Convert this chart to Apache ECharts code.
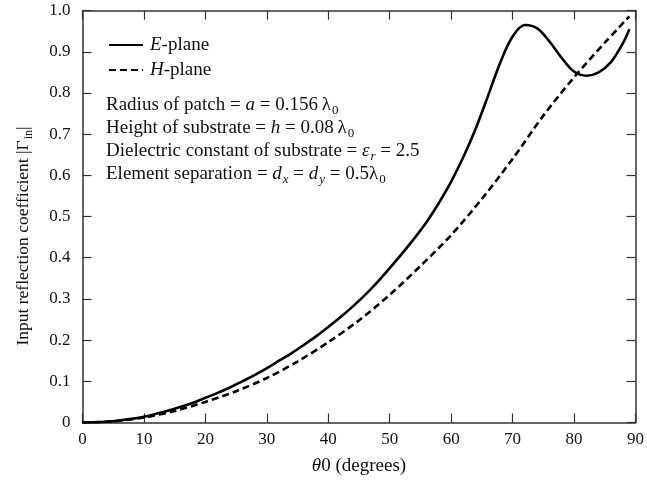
<!DOCTYPE html>
<html>
<head>
<meta charset="utf-8">
<script src="https://cdn.jsdelivr.net/npm/echarts@6/dist/echarts.min.js"></script>
<style>html,body{margin:0;padding:0;background:#fff}#c{width:647px;height:484px}</style>
</head>
<body>
<div id="c"></div>
<script>
const ePlaneTheta = [0,2,4,6,8,10,12,14,16,18,20,22,24,26,28,30,32,34,36,38,40,42,44,46,48,50,52,54,56,58,60,62,64,66,68,70,72,74,76,78,80,82,84,86,88,89];
const ePlaneGamma = [0,0.0005,0.002,0.005,0.009,0.014,0.021,0.029,0.038,0.048,0.06,0.072,0.085,0.1,0.115,0.132,0.15,0.168,0.188,0.209,0.232,0.256,0.282,0.31,0.341,0.375,0.41,0.447,0.487,0.533,0.585,0.645,0.714,0.793,0.874,0.937,0.965,0.957,0.925,0.885,0.852,0.842,0.85,0.875,0.922,0.955];
const hPlaneTheta = [0,5,10,15,20,25,30,35,40,45,50,55,60,65,70,75,80,85,89];
const hPlaneGamma = [0,0.003,0.012,0.028,0.05,0.076,0.108,0.148,0.195,0.248,0.31,0.38,0.455,0.543,0.64,0.745,0.838,0.922,0.986];
const xTicks = [0,10,20,30,40,50,60,70,80,90];
const yTicks = ['0','0.1','0.2','0.3','0.4','0.5','0.6','0.7','0.8','0.9','1.0'];
const seriesNames = ['E-plane','H-plane'];
const noteLines = [
  'Radius of patch = {i|a} = 0.156\u2009λ{s|0}',
  'Height of substrate = {i|h} = 0.08\u2009λ{s|0}',
  'Dielectric constant of substrate = {i|ε}{si|r} = 2.5',
  'Element separation = {i|d}{si|x} = {i|d}{si|y} = 0.5λ{s|0}'
];

const FONT = '"Liberation Serif", "DejaVu Serif", serif';
const AX = '#333';
const TXT = '#111';
const chart = echarts.init(document.getElementById('c'));
const rich19 = {
  i: {fontFamily: FONT, fontStyle: 'italic', fontSize: 19, color: TXT},
  s: {fontFamily: FONT, fontSize: 13, color: TXT, padding: [12, 0, 0, 1]},
  si: {fontFamily: FONT, fontStyle: 'italic', fontSize: 13, color: TXT, padding: [12, 0, 0, 1]}
};
const rich17 = {
  i: {fontFamily: FONT, fontStyle: 'italic', fontSize: 17.5, color: TXT},
  s: {fontFamily: FONT, fontSize: 12, color: TXT, padding: [11, 0, 0, 1]}
};
const pair = (xs, ys) => xs.map((x, k) => [x, ys[k]]);
const common = {
  type: 'value', min: 0,
  axisLine: {show: true, onZero: false, lineStyle: {color: AX, width: 1.5}},
  splitLine: {show: false},
  axisTick: {show: true, inside: true, length: 9, lineStyle: {color: AX, width: 1.2}}
};
chart.setOption({
  animation: false,
  backgroundColor: '#fff',
  grid: {left: 82.5, right: 10.5, top: 10.6, bottom: 61.5, containLabel: false},
  legend: {
    orient: 'vertical', left: 108, top: 35.5, padding: 0, itemWidth: 34, itemHeight: 14, itemGap: 6,
    data: seriesNames,
    itemStyle: {opacity: 0, borderWidth: 0},
    formatter: n => '{i|' + n.charAt(0) + '}' + n.slice(1),
    textStyle: {fontFamily: FONT, fontSize: 19, color: TXT, rich: rich19, padding: [0, 0, 0, 2]}
  },
  xAxis: [
    Object.assign({}, common, {
      position: 'bottom', max: 90, interval: 10,
      axisLabel: {fontFamily: FONT, fontSize: 17, color: TXT, margin: 9,
        formatter: v => xTicks.indexOf(v) >= 0 ? String(v) : ''},
      name: '{i|θ}0 (degrees)', nameLocation: 'middle', nameGap: 34,
      nameTextStyle: {fontFamily: FONT, fontSize: 19, color: TXT, rich: rich19}
    }),
    Object.assign({}, common, {
      position: 'top', max: 90, interval: 10, axisLabel: {show: false}
    })
  ],
  yAxis: [
    Object.assign({}, common, {
      position: 'left', max: 1, interval: 0.1,
      axisLabel: {fontFamily: FONT, fontSize: 17, color: TXT, margin: 12,
        formatter: v => yTicks[Math.round(v * 10)]},
      name: 'Input reflection coefficient |Γ{s|in}|', nameLocation: 'middle', nameGap: 48,
      nameRotate: 90,
      nameTextStyle: {fontFamily: FONT, fontSize: 17.5, color: TXT, rich: rich17, padding: [0, 39, 0, 0]}
    }),
    Object.assign({}, common, {
      position: 'right', max: 1, interval: 0.1, axisLabel: {show: false}
    })
  ],
  series: [
    {name: seriesNames[0], type: 'line', data: pair(ePlaneTheta, ePlaneGamma), symbol: 'none', smooth: 0.35,
      lineStyle: {color: '#000', width: 2.6, type: 'solid'}, itemStyle: {color: '#000'}},
    {name: seriesNames[1], type: 'line', data: pair(hPlaneTheta, hPlaneGamma), symbol: 'none', smooth: 0.3,
      lineStyle: {color: '#000', width: 2.6, type: [7, 4]}, itemStyle: {color: '#000'}}
  ],
  graphic: noteLines.map((t, k) => ({
    type: 'text', left: 106, top: 95.5 + k * 23,
    style: {text: t, fontFamily: FONT, fontSize: 19, fill: TXT, rich: rich19}
  }))
});
</script>
</body>
</html>
